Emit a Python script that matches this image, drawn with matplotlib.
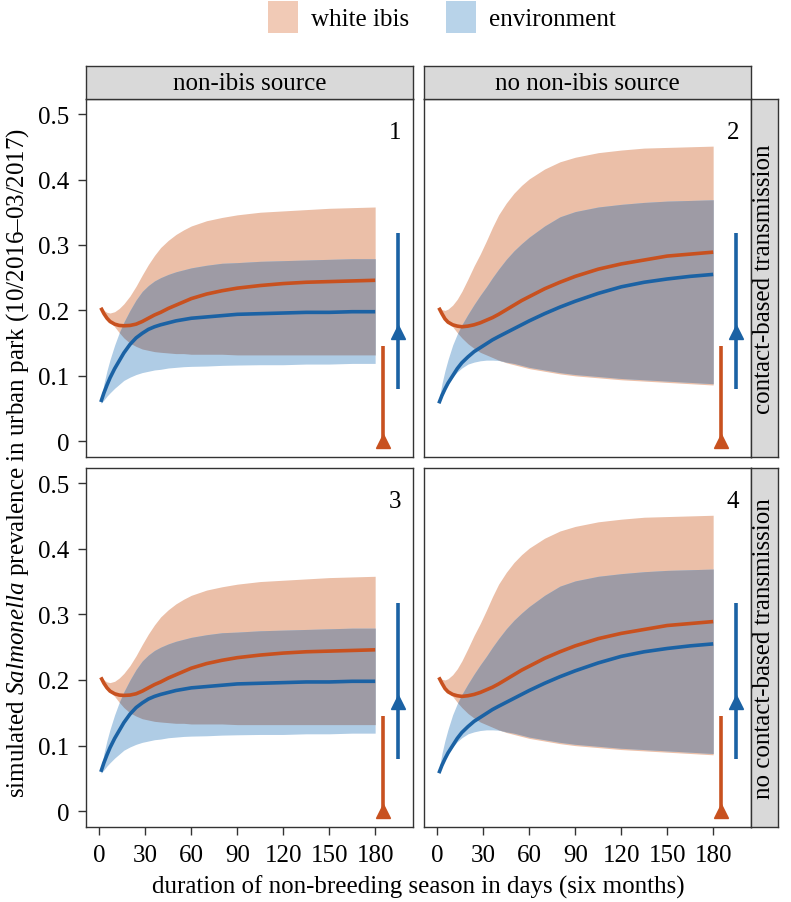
import matplotlib
matplotlib.use("Agg")
import matplotlib.pyplot as plt
from matplotlib.patches import Patch
import numpy as np

plt.rcParams["font.family"] = ["Liberation Serif", "DejaVu Serif"]
plt.rcParams["mathtext.fontset"] = "custom"
plt.rcParams["mathtext.rm"] = "Liberation Serif"
plt.rcParams["mathtext.it"] = "Liberation Serif:italic"

# days of the non-breeding season
days = [1, 3, 5, 7, 10, 13, 16, 20, 24, 28, 32, 36, 40, 45, 50, 55, 60, 70, 80, 90, 105, 120, 135, 150, 165, 180]

# scenario with a non-ibis source (panels 1 and 3)
ibis_mean_src = [0.204, 0.195, 0.188, 0.183, 0.179, 0.177, 0.1765, 0.177, 0.179, 0.183, 0.188, 0.193, 0.197,
                 0.203, 0.208, 0.213, 0.218, 0.225, 0.230, 0.234, 0.238, 0.241, 0.243, 0.244, 0.245, 0.246]
ibis_hi_src = [0.206, 0.200, 0.197, 0.196, 0.198, 0.203, 0.210, 0.222, 0.237, 0.254, 0.270, 0.284, 0.296,
               0.307, 0.316, 0.323, 0.329, 0.337, 0.342, 0.346, 0.350, 0.352, 0.354, 0.356, 0.357, 0.358]
ibis_lo_src = [0.202, 0.196, 0.190, 0.183, 0.175, 0.166, 0.158, 0.150, 0.145, 0.141, 0.139, 0.137, 0.136,
               0.135, 0.134, 0.134, 0.133, 0.133, 0.133, 0.132, 0.132, 0.132, 0.132, 0.132, 0.132, 0.132]
env_mean_src = [0.060, 0.074, 0.086, 0.097, 0.111, 0.123, 0.135, 0.148, 0.158, 0.165, 0.171, 0.175, 0.178,
                0.181, 0.184, 0.186, 0.188, 0.190, 0.192, 0.194, 0.195, 0.196, 0.197, 0.197, 0.198, 0.198]
env_hi_src = [0.062, 0.088, 0.108, 0.125, 0.147, 0.166, 0.182, 0.200, 0.216, 0.229, 0.238, 0.245, 0.250,
              0.255, 0.259, 0.262, 0.265, 0.269, 0.272, 0.273, 0.275, 0.276, 0.277, 0.278, 0.279, 0.279]
env_lo_src = [0.058, 0.063, 0.069, 0.074, 0.081, 0.087, 0.093, 0.098, 0.102, 0.105, 0.107, 0.109, 0.110,
              0.112, 0.113, 0.114, 0.1145, 0.115, 0.116, 0.1165, 0.117, 0.117, 0.118, 0.118, 0.119, 0.119]

# scenario without a non-ibis source (panels 2 and 4)
ibis_mean_nosrc = [0.204, 0.195, 0.187, 0.182, 0.178, 0.176, 0.175, 0.176, 0.178, 0.181, 0.185, 0.189, 0.194,
                   0.201, 0.208, 0.215, 0.221, 0.233, 0.243, 0.252, 0.263, 0.271, 0.277, 0.283, 0.286, 0.289]
ibis_hi_nosrc = [0.206, 0.201, 0.200, 0.202, 0.208, 0.217, 0.229, 0.248, 0.268, 0.286, 0.306, 0.327, 0.346,
                 0.364, 0.379, 0.391, 0.401, 0.416, 0.427, 0.434, 0.441, 0.445, 0.448, 0.449, 0.450, 0.451]
ibis_lo_nosrc = [0.202, 0.196, 0.190, 0.183, 0.175, 0.166, 0.158, 0.149, 0.142, 0.136, 0.132, 0.128, 0.124,
                 0.120, 0.117, 0.114, 0.111, 0.107, 0.103, 0.100, 0.097, 0.094, 0.092, 0.090, 0.088, 0.086]
env_mean_nosrc = [0.058, 0.070, 0.080, 0.089, 0.100, 0.111, 0.120, 0.129, 0.137, 0.143, 0.149, 0.155, 0.160,
                  0.166, 0.172, 0.178, 0.184, 0.195, 0.205, 0.214, 0.226, 0.236, 0.243, 0.248, 0.252, 0.255]
env_hi_nosrc = [0.062, 0.088, 0.108, 0.125, 0.147, 0.164, 0.178, 0.194, 0.209, 0.223, 0.236, 0.250, 0.263,
                0.278, 0.291, 0.302, 0.312, 0.329, 0.343, 0.351, 0.358, 0.362, 0.365, 0.367, 0.368, 0.369]
env_lo_nosrc = [0.058, 0.068, 0.078, 0.087, 0.098, 0.106, 0.112, 0.118, 0.121, 0.123, 0.124, 0.124, 0.1235,
                0.121, 0.119, 0.116, 0.113, 0.109, 0.105, 0.102, 0.099, 0.096, 0.094, 0.092, 0.090, 0.088]

# observed prevalence (point, low, high) drawn at the right of each panel
obs_x = [185, 195]
obs_point = [0.0, 0.167]
obs_lo = [0.0, 0.080]
obs_hi = [0.145, 0.318]

col_labels = ["non-ibis source", "no non-ibis source"]
row_labels = ["contact-based transmission", "no contact-based transmission"]
panel_numbers = ["1", "2", "3", "4"]
x_ticks = [0, 30, 60, 90, 120, 150, 180]
y_ticks = [0, 0.1, 0.2, 0.3, 0.4, 0.5]
y_ticklabels = ["0", "0.1", "0.2", "0.3", "0.4", "0.5"]

ORANGE = "#C8511F"
BLUE = "#1B62A4"
ORANGE_FILL = "#EBBFA8"
BLUE_FILL = "#AFCCE5"
OVERLAP_FILL = "#9E9BA5"
FS = 18

W, H = 791, 903


def box(x0, y0, x1, y1):
    # pixel box -> figure fraction
    return [x0 / W, 1 - y1 / H, (x1 - x0) / W, (y1 - y0) / H]


def strip(fig, rect, text, rotation=0):
    ax = fig.add_axes(rect)
    ax.set_facecolor("#D9D9D9")
    ax.set_xticks([])
    ax.set_yticks([])
    for s in ax.spines.values():
        s.set_color("#333333")
        s.set_linewidth(1.0)
    ax.text(0.5, 0.5, text, ha="center", va="center", fontsize=FS,
            rotation=rotation, transform=ax.transAxes)


def draw_panel(ax, series, number, show_x, show_y):
    ibis_mean, ibis_lo, ibis_hi, env_mean, env_lo, env_hi = [np.array(s) for s in series]

    ax.fill_between(days, ibis_lo, ibis_hi, color=ORANGE_FILL, lw=0)
    ax.fill_between(days, env_lo, env_hi, color=BLUE_FILL, lw=0)
    # overlap of both bands
    lo = np.maximum(ibis_lo, env_lo)
    hi = np.minimum(ibis_hi, env_hi)
    ax.fill_between(days, lo, hi, where=hi > lo, interpolate=True,
                    color=OVERLAP_FILL, lw=0)

    ax.plot(days, ibis_mean, color=ORANGE, lw=2.6, solid_capstyle="butt", solid_joinstyle="round")
    ax.plot(days, env_mean, color=BLUE, lw=2.6, solid_capstyle="butt", solid_joinstyle="round")

    for x, p, l, h, c in zip(obs_x, obs_point, obs_lo, obs_hi, [ORANGE, BLUE]):
        ax.plot([x, x], [l, h], color=c, lw=2.6, solid_capstyle="butt")
        ax.plot(x, p, marker="^", color=c, ms=9.5, mec=c)

    ax.text(193, 0.472, number, ha="center", va="center", fontsize=FS)

    ax.set_xlim(-8.7, 204.7)
    ax.set_ylim(-0.024, 0.523)
    ax.set_xticks(x_ticks)
    ax.set_yticks(y_ticks)
    ax.set_yticklabels(y_ticklabels)
    ax.tick_params(direction="out", length=6, width=1, color="#333333",
                   labelsize=FS, pad=6,
                   labelbottom=show_x, labelleft=show_y)
    if not show_x:
        ax.tick_params(axis="x", length=0)
    if not show_y:
        ax.tick_params(axis="y", length=0)
    for s in ax.spines.values():
        s.set_color("#333333")
        s.set_linewidth(1.0)


def main():
    fig = plt.figure(figsize=(W / 100, H / 100), dpi=100)

    cols = [(86, 413), (424, 751)]
    rows = [(100, 458), (469, 828)]
    scenario = [
        (ibis_mean_src, ibis_lo_src, ibis_hi_src, env_mean_src, env_lo_src, env_hi_src),
        (ibis_mean_nosrc, ibis_lo_nosrc, ibis_hi_nosrc, env_mean_nosrc, env_lo_nosrc, env_hi_nosrc),
    ]

    k = 0
    for r, (y0, y1) in enumerate(rows):
        for c, (x0, x1) in enumerate(cols):
            ax = fig.add_axes(box(x0, y0, x1, y1))
            draw_panel(ax, scenario[c], panel_numbers[k], show_x=(r == 1), show_y=(c == 0))
            k += 1
        strip(fig, box(751, y0, 778, y1), row_labels[r], rotation=90)

    for c, (x0, x1) in enumerate(cols):
        strip(fig, box(x0, 67, x1, 100), col_labels[c])

    fig.text(0.5 * (86 + 751) / W, 1 - 887 / H,
             "duration of non-breeding season in days (six months)",
             ha="center", va="center", fontsize=FS)
    fig.text(18 / W, 1 - 463 / H,
             "simulated $\\it{Salmonella}$ prevalence in urban park (10/2016\u201303/2017)",
             ha="center", va="center", rotation=90, fontsize=FS)

    handles = [Patch(facecolor="#F1CAB6", edgecolor="none", label="white ibis"),
               Patch(facecolor="#B8D3E9", edgecolor="none", label="environment")]
    fig.legend(handles=handles, loc="center", bbox_to_anchor=(442 / W, 1 - 18 / H),
               ncol=2, frameon=False, fontsize=FS, handlelength=1.2, handleheight=1.6,
               columnspacing=1.5, handletextpad=0.5)

    fig.savefig("out.png", dpi=100)


if __name__ == "__main__":
    main()
